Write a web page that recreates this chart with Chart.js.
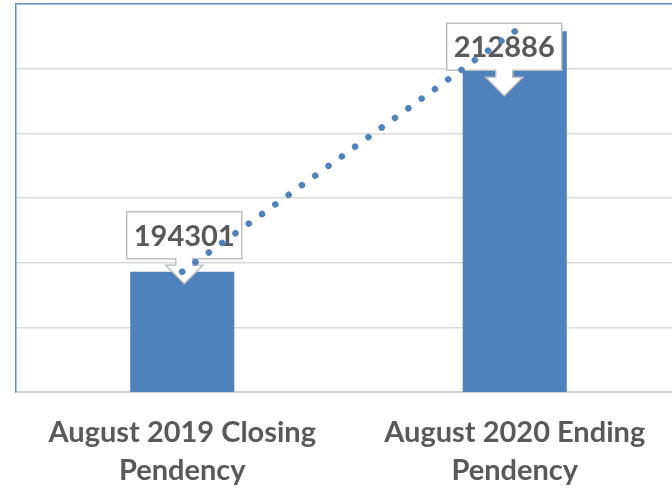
<!DOCTYPE html>
<html>
<head>
<meta charset="utf-8">
<script src="https://cdn.jsdelivr.net/npm/chart.js@4.4.0/dist/chart.umd.min.js"></script>
<style>
  html, body { margin: 0; padding: 0; background: #fff; overflow: hidden; }
  #wrap { width: 682px; height: 489px; overflow: hidden; }
</style>
</head>
<body>
<div id="wrap"><canvas id="chart" width="682" height="518"></canvas></div>
<script>
// values
var categories = [
  ['August 2019 Closing', 'Pendency'],
  ['August 2020 Ending', 'Pendency']
];
var pendency = [194301, 212886];
var yMin = 185000, yMax = 215000, yStep = 5000;

var blue = '#4f81bd';
var grey = '#595959';
var font = 'Lato, "Liberation Sans", sans-serif';

// where each callout box sits relative to the top of its bar (dx, box bottom dy, arrow tip dy)
var calloutPos = [
  { dx: 2, bottom: -13, tip: 12 },
  { dx: -10.5, bottom: 39, tip: 64.5 }
];

var callouts = {
  id: 'callouts',
  afterDatasetDraw: function(chart, args) {
    if (args.index !== 0) return;
    var ctx = chart.ctx;
    var meta = chart.getDatasetMeta(0);
    meta.data.forEach(function(bar, i) {
      var p = calloutPos[i];
      var cx = bar.x + p.dx;
      var w = 115, h = 47;
      var left = cx - w / 2, right = cx + w / 2;
      var bottom = bar.y + p.bottom, top = bottom - h;
      var tip = bar.y + p.tip;
      var stem = 8.5, head = 18.5;
      var headY = tip - 18.5;
      ctx.save();
      ctx.beginPath();
      ctx.moveTo(left, top);
      ctx.lineTo(right, top);
      ctx.lineTo(right, bottom);
      ctx.lineTo(cx + stem, bottom);
      ctx.lineTo(cx + stem, headY);
      ctx.lineTo(cx + head, headY);
      ctx.lineTo(cx, tip);
      ctx.lineTo(cx - head, headY);
      ctx.lineTo(cx - stem, headY);
      ctx.lineTo(cx - stem, bottom);
      ctx.lineTo(left, bottom);
      ctx.closePath();
      ctx.fillStyle = '#ffffff';
      ctx.fill();
      ctx.strokeStyle = '#bfbfbf';
      ctx.lineWidth = 1.5;
      ctx.stroke();
      ctx.fillStyle = grey;
      ctx.font = 'bold 29px ' + font;
      ctx.textAlign = 'center';
      ctx.textBaseline = 'middle';
      ctx.fillText(String(pendency[i]), cx, top + h / 2 + 1);
      ctx.restore();
    });
  }
};

new Chart(document.getElementById('chart'), {
  type: 'bar',
  data: {
    labels: categories,
    datasets: [
      {
        type: 'bar',
        data: pendency,
        backgroundColor: blue,
        barPercentage: 0.313,
        categoryPercentage: 1,
        order: 2
      },
      {
        type: 'line',
        data: pendency,
        borderColor: blue,
        borderWidth: 6.5,
        borderDash: [0.01, 16.4],
        borderCapStyle: 'round',
        pointRadius: 0,
        fill: false,
        order: 1
      }
    ]
  },
  options: {
    responsive: false,
    animation: false,
    layout: { padding: { left: 16, right: 1, top: 4, bottom: 6 } },
    plugins: { legend: { display: false }, tooltip: { enabled: false } },
    scales: {
      x: {
        grid: { display: false, drawTicks: false },
        border: { color: '#d0d0d0', width: 2 },
        ticks: {
          color: grey,
          font: { family: font, size: 29, weight: 'bold', lineHeight: 1.31 },
          padding: 22,
          maxRotation: 0
        }
      },
      y: {
        min: yMin,
        max: yMax,
        ticks: { display: false, stepSize: yStep },
        grid: {
          drawTicks: false,
          lineWidth: 1.5,
          color: function(c) { return c.tick && c.tick.value === yMax ? '#5b8ac6' : '#d9d9d9'; }
        },
        border: { color: '#5b8ac6', width: 1.5 }
      }
    }
  },
  plugins: [callouts]
});
</script>
</body>
</html>
